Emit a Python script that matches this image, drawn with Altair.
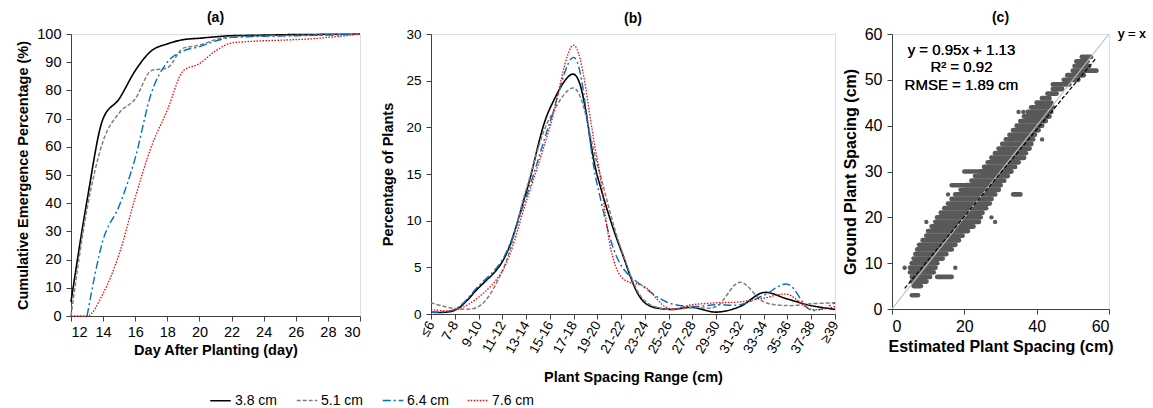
import altair as alt
import pandas as pd

FONT = "Liberation Sans"

# ---------------- series definitions ----------------
series = ["3.8 cm", "5.1 cm", "6.4 cm", "7.6 cm"]
colors = ["#000000", "#808080", "#0070C0", "#FF0000"]
dashes = [[1, 0], [4, 2], [8, 3, 2, 3], [1.5, 1.5]]
widths = [1.6, 1.3, 1.5, 1.3]

# ---------------- panel (a): cumulative emergence ----------------
days = [12, 13, 14, 15, 16, 17, 18, 19, 20, 21, 22, 23, 24, 25, 26, 27, 28, 29, 30]
emerg_38 = [5, 41, 70, 77, 87, 94, 96.5, 98, 98.5, 99, 99.4, 99.5, 99.6, 99.7, 99.8, 99.8, 99.9, 99.9, 100]
emerg_51 = [0, 38, 62, 72, 77, 87, 88, 95, 96, 98, 99, 99.2, 99.3, 99.4, 99.5, 99.6, 99.7, 99.8, 100]
days_64 = [13, 14, 15, 16, 17, 18, 19, 20, 21, 22, 23, 24, 25, 26, 27, 28, 29, 30]
emerg_64 = [0, 27, 39, 56, 79, 90, 94, 95.5, 97.5, 98.8, 99, 99.2, 99.3, 99.4, 99.5, 99.6, 99.8, 100]
emerg_76 = [0, 0, 8, 22, 42, 60, 73, 87, 89.5, 94, 96.8, 97.3, 97.6, 97.8, 98, 98.3, 98.8, 99.3, 100]

# ---------------- panel (b): spacing distribution ----------------
ranges = ["≤6", "7-8", "9-10", "11-12", "13-14", "15-16", "17-18", "19-20", "21-22",
          "23-24", "25-26", "27-28", "29-30", "31-32", "33-34", "35-36", "37-38", "≥39"]
pct_38 = [0.2, 0.4, 2.8, 5.6, 13.0, 22.0, 25.7, 14.8, 6.8, 1.2, 0.5, 0.7, 0.2, 0.8, 2.3, 1.6, 0.9, 0.5]
pct_51 = [1.2, 0.6, 0.8, 4.6, 13.3, 21.0, 24.2, 16.0, 7.0, 1.4, 0.5, 0.7, 0.8, 3.4, 1.3, 0.9, 1.1, 1.2]
pct_64 = [0.2, 0.5, 3.0, 5.8, 12.5, 20.5, 27.5, 13.8, 5.2, 2.8, 1.2, 0.8, 1.0, 1.0, 2.0, 3.2, 0.4, 1.2]
pct_76 = [0.5, 0.4, 1.8, 4.6, 12.0, 20.0, 28.8, 16.5, 4.0, 2.9, 0.6, 1.0, 1.2, 1.3, 1.7, 2.1, 0.5, 0.8]

# ---------------- panel (c): estimated vs ground spacing ----------------
# dense core of the point cloud: for each ground value, span of estimated values
ground = [5, 6, 7, 8, 9, 10, 11, 12, 13, 14, 15, 16, 17, 18, 19, 20, 21, 22, 23, 24, 25,
          26, 27, 28, 29, 30, 31, 32, 33, 34, 35, 36, 37, 38, 39, 40, 41, 42, 43, 44, 45,
          46, 47, 48, 49, 50, 51, 52, 53, 54, 55]
est_lo = [6.0, 5.5, 5.5, 5.0, 5.0, 5.5, 6.0, 6.5, 7.0, 7.5, 8.5, 9.5, 10.0, 11.0, 12.0, 12.5,
          13.5, 14.5, 15.5, 16.5, 17.5, 19.0, 20.5, 22.0, 23.0, 24.5, 25.5, 26.5, 27.5, 28.5,
          29.5, 30.5, 31.5, 32.5, 33.5, 34.5, 35.5, 36.5, 37.5, 38.5, 40.0, 41.5, 43.0, 44.5,
          44.5, 47.5, 48.5, 50.0, 50.5, 51.0, 52.5]
est_hi = [8.0, 9.5, 10.5, 11.5, 12.0, 12.5, 14.0, 15.0, 16.5, 17.5, 18.5, 19.5, 21.0, 22.5,
          24.0, 24.5, 25.0, 26.0, 27.0, 27.5, 28.5, 29.5, 30.0, 31.0, 32.0, 33.0, 34.0, 35.0,
          36.5, 37.0, 38.0, 38.5, 39.0, 39.5, 40.5, 41.5, 42.5, 43.5, 44.0, 44.5, 44.0, 43.5,
          45.5, 47.0, 49.0, 51.5, 53.0, 56.5, 54.5, 54.0, 55.0]
# detached streaks of points
streak_ground = [3, 7, 27, 30, 25]
streak_lo = [5.5, 12.5, 16.5, 20.0, 33.5]
streak_hi = [7.2, 16.5, 20.5, 24.0, 35.5]
# isolated points
out_est = [3.5, 17.5, 27.5, 28.5, 15.5, 41.5, 35.0, 36.3, 45.0, 9.5]
out_ground = [9, 9, 20, 19, 25, 37, 43, 43, 48, 19]
# reference lines
yx_x = [0, 60]
yx_y = [0, 60]
reg_x = [3.5, 56.5]
reg_y = [4.5, 54.8]

# ---------------- tables ----------------
rows_a = []
for d, v in zip(days, emerg_38):
    rows_a.append({"day": d, "pct": v, "series": series[0]})
for d, v in zip(days, emerg_51):
    rows_a.append({"day": d, "pct": v, "series": series[1]})
for d, v in zip(days_64, emerg_64):
    rows_a.append({"day": d, "pct": v, "series": series[2]})
for d, v in zip(days, emerg_76):
    rows_a.append({"day": d, "pct": v, "series": series[3]})
df_a = pd.DataFrame(rows_a)

rows_b = []
for s, vals in zip(series, [pct_38, pct_51, pct_64, pct_76]):
    for r, v in zip(ranges, vals):
        rows_b.append({"range": r, "pct": v, "series": s})
df_b = pd.DataFrame(rows_b)

df_core = pd.DataFrame({"g": ground, "lo": est_lo, "hi": est_hi})
df_streak = pd.DataFrame({"g": streak_ground, "lo": streak_lo, "hi": streak_hi})
df_out = pd.DataFrame({"est": out_est, "g": out_ground})
df_yx = pd.DataFrame({"x": yx_x, "y": yx_y})
df_reg = pd.DataFrame({"x": reg_x, "y": reg_y})

# ---------------- shared encodings ----------------
legend = alt.Legend(title=None, orient="none", legendX=138, legendY=355,
                    direction="horizontal", symbolType="stroke", symbolSize=420,
                    symbolStrokeWidth=1.6, labelFontSize=14, labelFont=FONT,
                    labelColor="#000000", columnPadding=15, labelOffset=3, padding=0)
color_enc = alt.Color("series:N", scale=alt.Scale(domain=series, range=colors), legend=legend)
dash_enc = alt.StrokeDash("series:N", scale=alt.Scale(domain=series, range=dashes), legend=legend)
width_enc = alt.StrokeWidth("series:N", scale=alt.Scale(domain=series, range=widths), legend=None)

AX = dict(grid=False, domainColor="#404040", tickColor="#404040", tickSize=5,
          labelColor="#000000", titleColor="#000000", labelFont=FONT, titleFont=FONT,
          titleFontWeight="bold")


def ptitle(t):
    return alt.TitleParams(t, fontSize=14, fontWeight="bold", font=FONT, anchor="middle",
                           offset=1, color="#000000")


chart_a = alt.Chart(df_a).mark_line(interpolate="monotone").encode(
    x=alt.X("day:Q", scale=alt.Scale(domain=[12, 30], nice=False),
            axis=alt.Axis(values=list(range(12, 31, 2)), title="Day After Planting (day)",
                          labelFontSize=14.5, titleFontSize=14.5, labelPadding=4,
                          titlePadding=5, **AX)),
    y=alt.Y("pct:Q", scale=alt.Scale(domain=[0, 100], nice=False),
            axis=alt.Axis(values=list(range(0, 101, 10)),
                          title="Cumulative Emergence Percentage (%)",
                          labelFontSize=14.5, titleFontSize=14.5, labelPadding=5,
                          titlePadding=6, **AX)),
    color=color_enc, strokeDash=dash_enc, strokeWidth=width_enc,
).properties(width=289, height=282, title=ptitle("(a)"))

chart_b = alt.Chart(df_b).mark_line(interpolate="catmull-rom").encode(
    x=alt.X("range:O", sort=ranges, scale=alt.Scale(type="point", padding=0),
            axis=alt.Axis(title="Plant Spacing Range (cm)", labelAngle=-60,
                          labelFontSize=13.5, titleFontSize=14.5, labelPadding=3,
                          titlePadding=15, **AX)),
    y=alt.Y("pct:Q", scale=alt.Scale(domain=[0, 30], nice=False),
            axis=alt.Axis(values=list(range(0, 31, 5)), title="Percentage of Plants",
                          labelFontSize=13.5, titleFontSize=14.5, labelPadding=5,
                          titlePadding=10, **AX)),
    color=color_enc, strokeDash=dash_enc, strokeWidth=width_enc,
).properties(width=404, height=280, title=ptitle("(b)"))

xc = alt.X("lo:Q", scale=alt.Scale(domain=[0, 60], nice=False),
           axis=alt.Axis(values=list(range(0, 61, 10)), title="Estimated Plant Spacing (cm)",
                         labelFontSize=16, titleFontSize=16, labelPadding=4, titlePadding=4,
                         **AX))
yc = alt.Y("g:Q", scale=alt.Scale(domain=[0, 60], nice=False),
           axis=alt.Axis(values=list(range(0, 61, 10)), title="Ground Plant Spacing (cm)",
                         labelFontSize=16, titleFontSize=16, labelPadding=5, titlePadding=6,
                         **AX))

core = alt.Chart(df_core).mark_rule(strokeWidth=4.9, strokeCap="round", color="#595959").encode(
    x=xc, x2="hi:Q", y=yc)
streaks = alt.Chart(df_streak).mark_rule(strokeWidth=4.6, strokeCap="round", color="#595959").encode(
    x=alt.X("lo:Q"), x2="hi:Q", y=alt.Y("g:Q"))
outliers = alt.Chart(df_out).mark_circle(size=19, opacity=1, color="#595959").encode(
    x=alt.X("est:Q"), y=alt.Y("g:Q"))
yx_line = alt.Chart(df_yx).mark_line(color="#BFBFBF", strokeWidth=1.2).encode(
    x=alt.X("x:Q"), y=alt.Y("y:Q"))
reg_line = alt.Chart(df_reg).mark_line(color="#000000", strokeWidth=1.2, strokeDash=[4, 2]).encode(
    x=alt.X("x:Q"), y=alt.Y("y:Q"))
yx_label = alt.Chart(df_yx).mark_text(align="left", baseline="middle", dx=9, fontSize=13,
                                      font=FONT, color="#000000").encode(
    x=alt.datum(60), y=alt.datum(60), text=alt.value("y = x"))
ann1 = alt.Chart(df_yx).mark_text(align="center", baseline="middle", fontSize=15, font=FONT,
                                  color="#000000").encode(
    x=alt.datum(19.2), y=alt.datum(56.5), text=alt.value("y = 0.95x + 1.13"))
ann2 = alt.Chart(df_yx).mark_text(align="center", baseline="middle", fontSize=15, font=FONT,
                                  color="#000000").encode(
    x=alt.datum(19.2), y=alt.datum(52.8), text=alt.value("R² = 0.92"))
ann3 = alt.Chart(df_yx).mark_text(align="center", baseline="middle", fontSize=15, font=FONT,
                                  color="#000000").encode(
    x=alt.datum(19.2), y=alt.datum(48.9), text=alt.value("RMSE = 1.89 cm"))

chart_c = alt.layer(core, streaks, outliers, yx_line, reg_line, yx_label, ann1, ann2, ann3
                    ).properties(width=217, height=275, title=ptitle("(c)"))

inner = alt.hconcat(chart_b, chart_c, spacing=57, bounds="flush").resolve_scale(
    x="independent", y="independent")
chart = alt.hconcat(chart_a, inner, spacing=71, bounds="flush").resolve_scale(
    x="independent", y="independent"
).properties(
    padding={"left": 15, "top": 10, "right": 0, "bottom": 0},
    background="#ffffff",
).configure_view(stroke=None).configure(font=FONT)

chart.save("out.html", embed_options={"renderer": "svg", "actions": False})
